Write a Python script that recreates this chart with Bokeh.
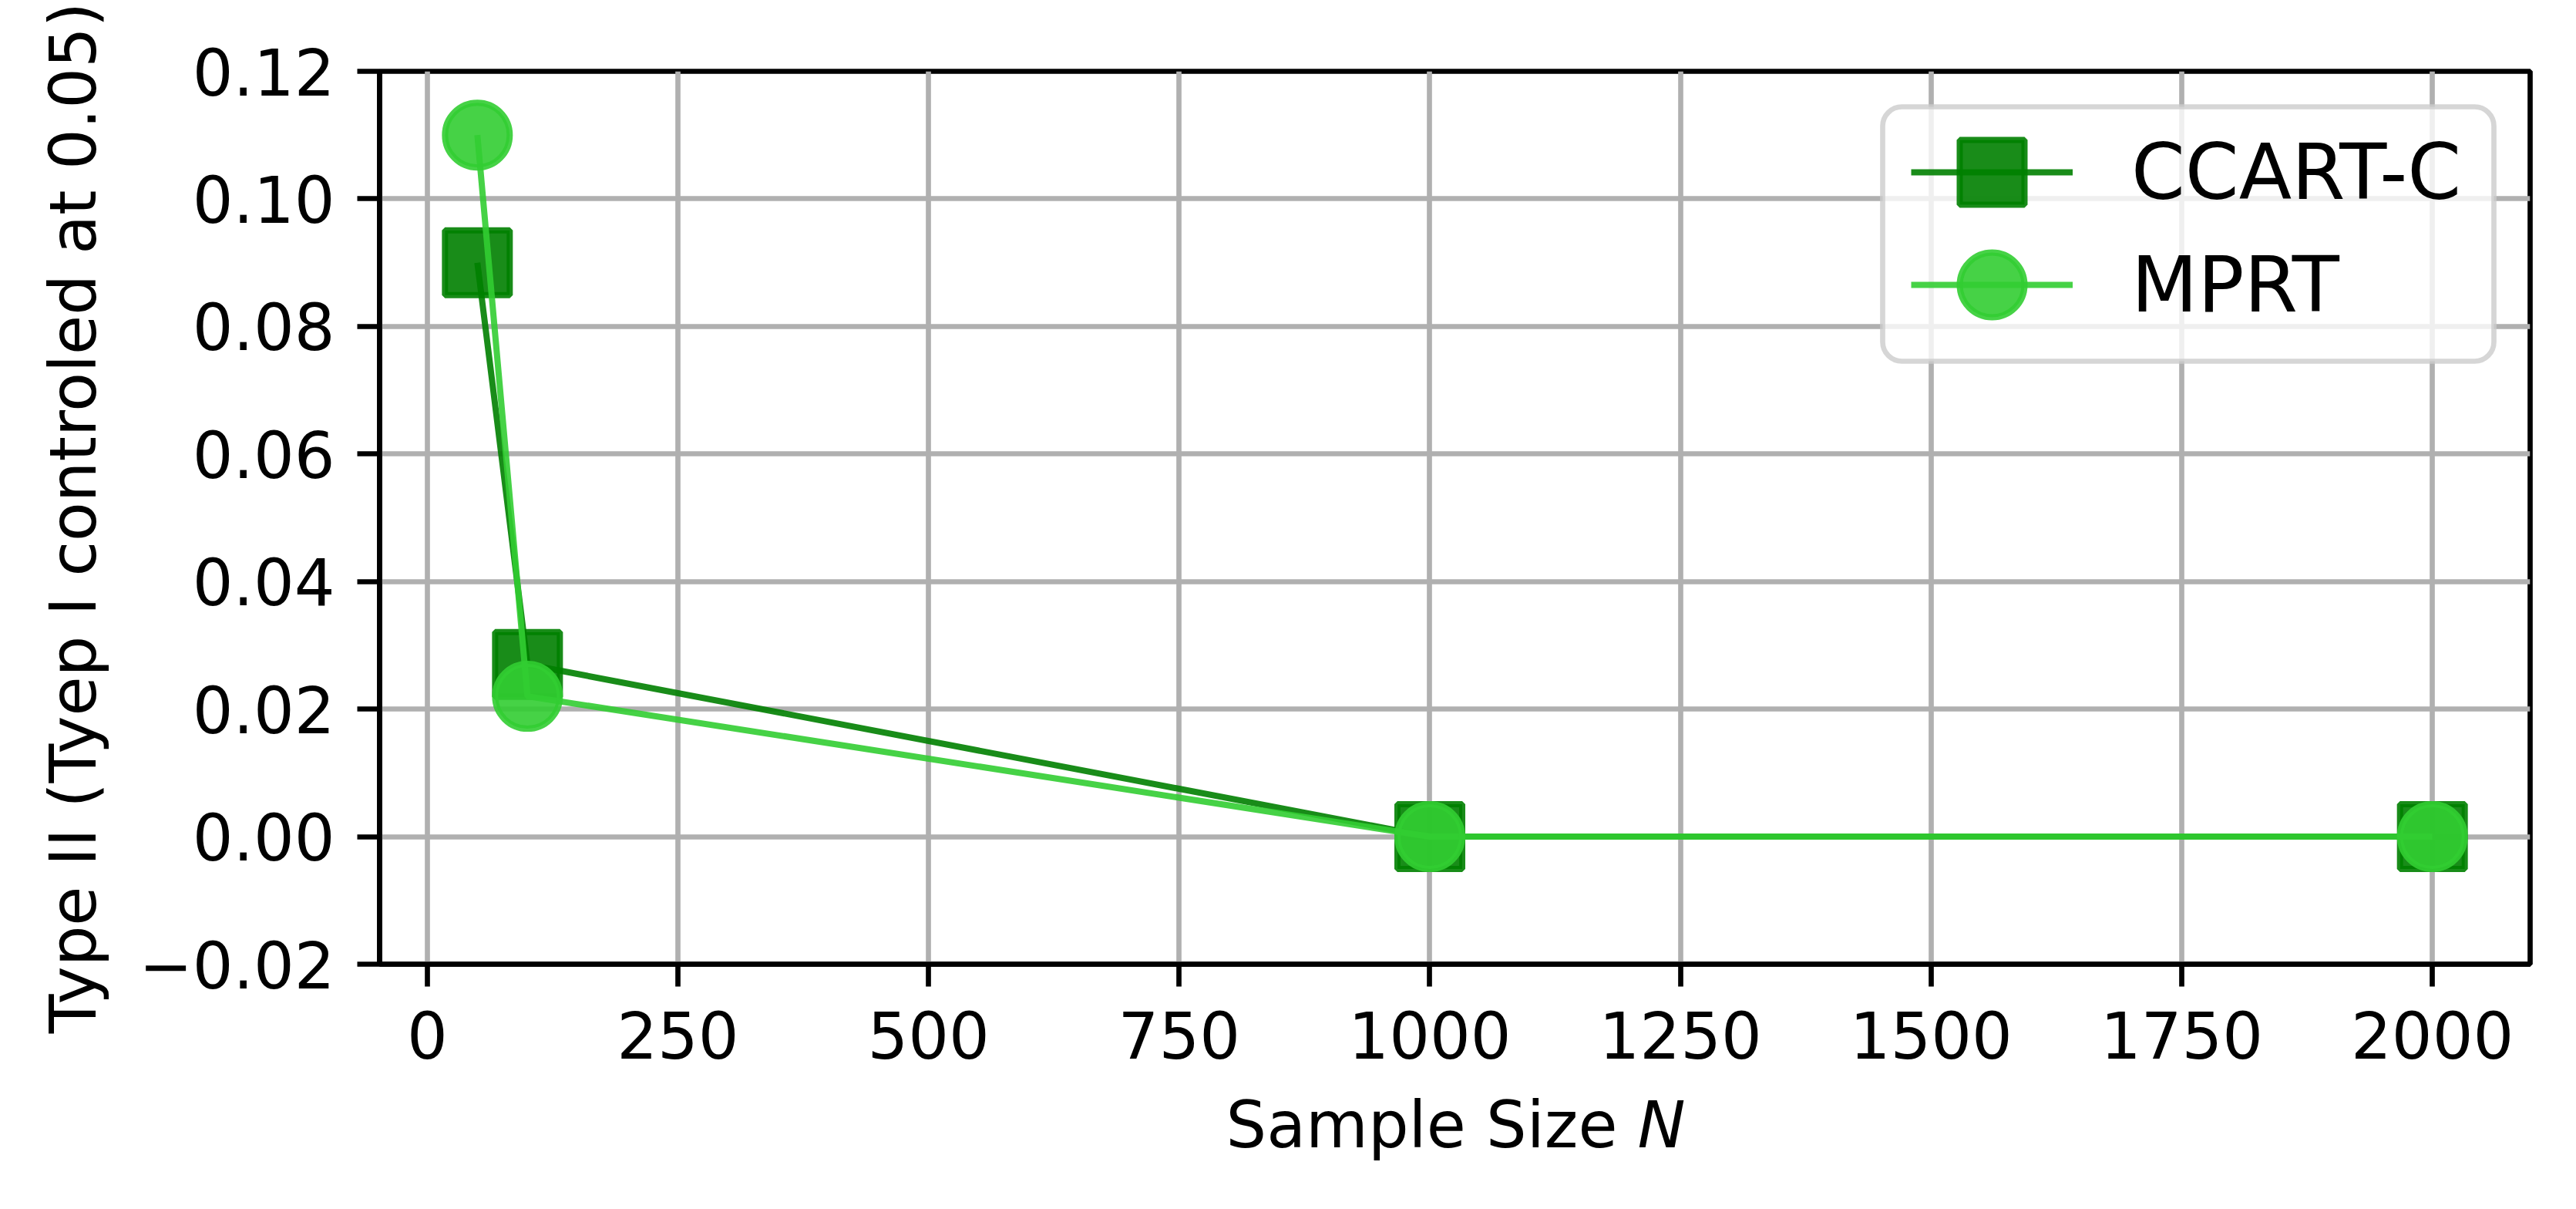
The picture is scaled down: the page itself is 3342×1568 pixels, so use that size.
from bokeh.plotting import figure
from bokeh.layouts import column
from bokeh.models import (Range1d, FixedTicker, CustomJSTickFormatter, Legend,
                          LegendItem, BoxAnnotation)
from bokeh.core.properties import value
from bokeh.embed import file_html
from bokeh.resources import INLINE

# ---- data ----
sample_sizes = [50, 100, 1000, 2000]
ccart_c = [0.09, 0.027, 0.0, 0.0]
mprt = [0.11, 0.022, 0.0, 0.0]
series_names = ["CCART-C", "MPRT"]
x_ticks = [0, 250, 500, 750, 1000, 1250, 1500, 1750, 2000]
y_ticks = [-0.02, 0.0, 0.02, 0.04, 0.06, 0.08, 0.10, 0.12]
x_label = "Sample Size"
x_label_var = "N"
y_label = "Type II (Tyep I controled at 0.05)"

FONT = "DejaVu Sans"
LW = 6.67
TICK_FS = "83px"

W, H = 3342, 1568
XL_H = 158                      # strip below the plot that holds the x label
PH = H - XL_H
BL, BR, BT = 492, 60, 92
FRAME_BOTTOM = 1250
BB = PH - FRAME_BOTTOM
FW = W - BL - BR
X0, X1 = -47.5, 2097.5
Y0, Y1 = -0.02, 0.12

p = figure(width=W, height=PH, output_backend="svg", toolbar_location=None,
           x_range=Range1d(X0, X1), y_range=Range1d(Y0, Y1),
           min_border_left=BL, min_border_right=BR, min_border_top=BT,
           min_border_bottom=BB)
p.background_fill_color = "white"
p.border_fill_color = "white"
p.outline_line_color = "black"
p.outline_line_width = LW

for ax in (p.xaxis[0], p.yaxis[0]):
    ax.axis_line_width = LW
    ax.axis_line_color = "black"
    ax.major_tick_line_width = LW
    ax.major_tick_line_color = "black"
    ax.major_tick_out = 29
    ax.major_tick_in = 0
    ax.minor_tick_out = 0
    ax.minor_tick_in = 0
    ax.major_label_text_font = FONT
    ax.major_label_text_font_size = TICK_FS
    ax.major_label_text_color = "black"

p.xaxis.ticker = FixedTicker(ticks=x_ticks)
p.yaxis.ticker = FixedTicker(ticks=y_ticks)
p.yaxis.formatter = CustomJSTickFormatter(
    code="return (tick < -1e-9 ? '\u2212' : '') + Math.abs(tick).toFixed(2);")
p.xaxis.major_label_standoff = 31
p.yaxis.major_label_standoff = 29

p.yaxis.axis_label = y_label
p.yaxis.axis_label_text_font = FONT
p.yaxis.axis_label_text_font_size = TICK_FS
p.yaxis.axis_label_text_font_style = "normal"
p.yaxis.axis_label_text_color = "black"
p.yaxis.axis_label_standoff = 33

for g in (p.xgrid[0], p.ygrid[0]):
    g.grid_line_color = "#b0b0b0"
    g.grid_line_width = LW

# ---- series ----
r1l = p.line(sample_sizes, ccart_c, line_color="green", line_alpha=0.9, line_width=8)
r1s = p.scatter(sample_sizes, ccart_c, marker="square", size=84,
                fill_color="green", line_color="green", alpha=0.9, line_width=8)
r2l = p.line(sample_sizes, mprt, line_color="limegreen", line_alpha=0.9, line_width=8)
r2s = p.scatter(sample_sizes, mprt, marker="circle", size=84,
                fill_color="limegreen", line_color="limegreen", alpha=0.9, line_width=8)

# ---- legend frame ----
box = BoxAnnotation(left=2442 - BL, right=3235 - BL, top=FRAME_BOTTOM - 138,
                    bottom=FRAME_BOTTOM - 468,
                    left_units="screen", right_units="screen",
                    top_units="screen", bottom_units="screen",
                    fill_color="white", fill_alpha=0.8, line_color="#cccccc",
                    line_alpha=0.8, line_width=LW, level="annotation")
try:
    box.border_radius = 25
except Exception:
    pass
p.add_layout(box)

# one legend per entry so that the markers keep their full size
GLYPH = 210
row_centers = [223, 369]
for name, rends, rc in zip(series_names, [[r1l, r1s], [r2l, r2s]], row_centers):
    lg = Legend(items=[LegendItem(label=name, renderers=rends)],
                location=(2479 - BL, FRAME_BOTTOM - (rc + GLYPH / 2)),
                glyph_width=GLYPH, glyph_height=GLYPH,
                label_standoff=76, padding=0, margin=0, spacing=0,
                border_line_alpha=0, background_fill_alpha=0,
                label_text_font=FONT, label_text_font_size="100px",
                label_text_color="black")
    p.add_layout(lg)

# ---- x label strip (plain words + italic variable) ----
# its frame is aligned with the main frame by the column layout, so it shares x_range
p2 = figure(width=W, height=XL_H, output_backend="svg", toolbar_location=None,
            x_range=p.x_range, y_range=Range1d(0, XL_H),
            x_axis_type=None, y_axis_type=None, min_border=0,
            min_border_left=0, min_border_right=0, min_border_top=0,
            min_border_bottom=0)
p2.outline_line_color = None
p2.background_fill_color = "white"
p2.border_fill_color = "white"


def px_x(px_from_frame_left):
    return X0 + px_from_frame_left * (X1 - X0) / FW


baseline_y = XL_H - (1489 - PH) + 30
p2.text(x=[px_x(2098 - BL)], y=[baseline_y], text=[x_label], text_align="right",
        text_baseline="alphabetic", text_font=value(FONT), text_font_size="83px",
        text_color="black")
p2.text(x=[px_x(2124 - BL)], y=[baseline_y], text=[x_label_var], text_align="left",
        text_baseline="alphabetic", text_font=value(FONT), text_font_size="83px",
        text_font_style="italic", text_color="black")

layout = column(p, p2, spacing=0)
open("out.html", "w").write(file_html(layout, INLINE))
